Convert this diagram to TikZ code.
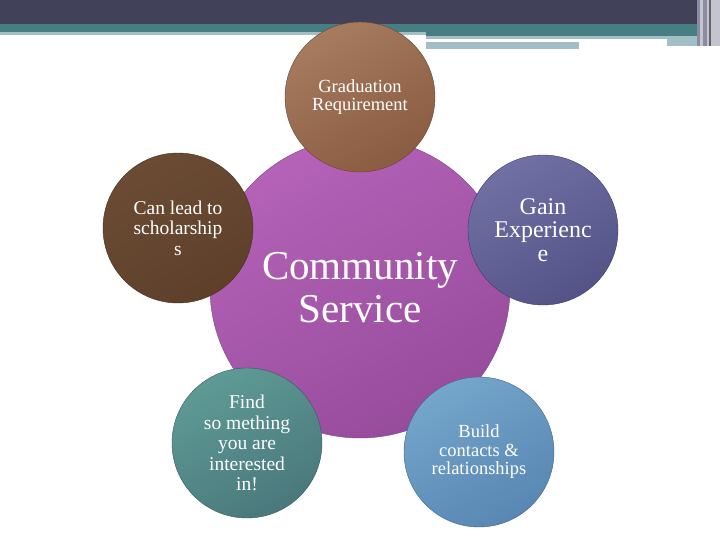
\documentclass[tikz,border=0pt]{standalone}
\usepackage{fontspec}
\setmainfont{Liberation Serif}
\usepackage{tikz}
\definecolor{barDark}{HTML}{41425A}
\definecolor{barTeal}{HTML}{467E83}
\definecolor{barLight}{HTML}{A1BFC4}
\definecolor{stripGray}{HTML}{8C8CA0}
\definecolor{stripLight}{HTML}{C4C4CE}
\definecolor{hubTop}{HTML}{B463B8}
\definecolor{hubBot}{HTML}{974B9B}
\definecolor{gradTop}{HTML}{A67B5F}
\definecolor{gradBot}{HTML}{8A5C41}
\definecolor{leadTop}{HTML}{6B4B34}
\definecolor{leadBot}{HTML}{5E402A}
\definecolor{gainTop}{HTML}{7070A4}
\definecolor{gainBot}{HTML}{535388}
\definecolor{findTop}{HTML}{5E9A95}
\definecolor{findBot}{HTML}{4A787C}
\definecolor{buildTop}{HTML}{74A5CA}
\definecolor{buildBot}{HTML}{5887B3}

\begin{document}
\begin{tikzpicture}[x=1pt,y=-1pt,hub/.style={shape=circle,minimum size=300pt,inner sep=0pt,top color=hubTop,bottom color=hubBot,shading angle=30,draw=hubBot!85!black,text=white,align=center,font=\fontsize{41}{43}\selectfont},bubble/.style 2 args={shape=circle,minimum size=150pt,inner sep=0pt,top color=#1,bottom color=#2,shading angle=30,draw=#2!75!black,text=white,align=center,font=\fontsize{18.5}{18.5}\selectfont},big/.style={font=\fontsize{19.5}{20.5}\selectfont},bigger/.style={font=\fontsize{24}{23.5}\selectfont}]
\useasboundingbox (0,0) rectangle (720,540);
\fill[white] (0,0) rectangle (720,540);

\fill[barDark] (0,0) rectangle (697,24);
\fill[barTeal] (0,24) rectangle (697,32);
\fill[barTeal] (426,32) rectangle (697,36);
\fill[barLight] (0,32) rectangle (426,35);
\fill[barLight] (426,36) rectangle (705,46);
\fill[white] (426,39) rectangle (667,42);
\fill[white] (579,42) rectangle (667,46);
\fill[barLight] (426,42) rectangle (579,49);
\fill[stripLight] (697,0) rectangle (720,46);
\fill[stripGray] (697,0) rectangle (700,46);
\fill[stripGray] (703,0) rectangle (707,46);
\fill[stripGray!70!black] (709,0) rectangle (711,46);

\node[hub] (hub) at (360,288) {Community\\Service};

\node[bubble={gradTop}{gradBot}] (grad) at (360,97) {Graduation\\Requirement};
\node[bubble={leadTop}{leadBot},big] (lead) at (178,228) {Can lead to\\scholarship\\s};
\node[bubble={gainTop}{gainBot},bigger] (gain) at (543,230) {Gain\\Experienc\\e};
\node[bubble={findTop}{findBot},big] (find) at (247,443) {Find\\so mething\\you are\\interested\\in!};
\node[bubble={buildTop}{buildBot}] (build) at (479,452) {Build\\contacts \&\\relationships};
\end{tikzpicture}
\end{document}
